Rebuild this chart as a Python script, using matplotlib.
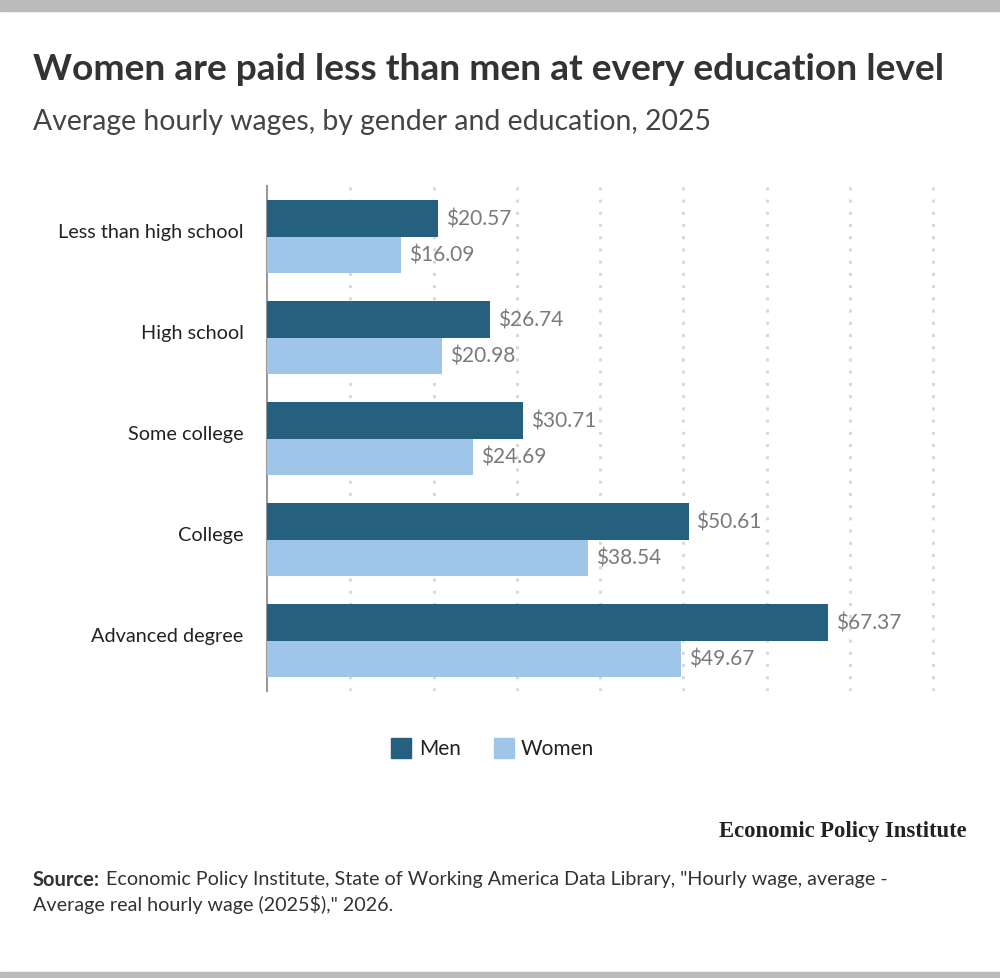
import numpy as np
import matplotlib
matplotlib.use("Agg")
import matplotlib.pyplot as plt
from matplotlib.patches import Rectangle

categories = ["Less than high school", "High school", "Some college", "College", "Advanced degree"]
men = [20.57, 26.74, 30.71, 50.61, 67.37]
women = [16.09, 20.98, 24.69, 38.54, 49.67]
series_names = ["Men", "Women"]
gridlines = [10, 20, 30, 40, 50, 60, 70, 80]

men_color = "#25607f"
women_color = "#9fc6e8"

plt.rcParams["font.family"] = ["Lato", "DejaVu Sans"]

fig = plt.figure(figsize=(10, 9.79), dpi=100)

# gray bands top and bottom
fig.patches.append(Rectangle((0, 1 - 12 / 979), 1, 12 / 979, transform=fig.transFigure,
                             color="#bbbbbb", zorder=0))
fig.patches.append(Rectangle((0, 0), 1, 6 / 979, transform=fig.transFigure,
                             color="#bbbbbb", zorder=0))

ax = fig.add_axes([0.267, 1 - 692 / 979, 0.935 - 0.267, (692 - 187) / 979])

y = np.arange(len(categories))
h = 0.366
ax.barh(y - h / 2, men, height=h, color=men_color, zorder=3)
ax.barh(y + h / 2, women, height=h, color=women_color, zorder=3)

for yi, v in zip(y, men):
    ax.text(v + 0.95, yi - h / 2, f"${v:.2f}", va="center", ha="left",
            fontsize=15, color="#7a7a7a")
for yi, v in zip(y, women):
    ax.text(v + 0.95, yi + h / 2, f"${v:.2f}", va="center", ha="left",
            fontsize=15, color="#7a7a7a")

for g in gridlines:
    ax.axvline(g, color="#d9d9d9", linestyle=(0, (1, 3)), linewidth=2.2, zorder=1)

ax.set_xlim(0, 80.2)
ax.set_ylim(len(categories) - 0.5, -0.5)
ax.set_yticks(y - 0.06)
ax.set_yticklabels(categories, fontsize=14.3, color="#222222")
ax.tick_params(axis="y", length=0, pad=17)
ax.set_xticks([])
for s in ["top", "right", "bottom"]:
    ax.spines[s].set_visible(False)
ax.spines["left"].set_color("#999999")
ax.spines["left"].set_linewidth(1.5)

# title, subtitle
fig.text(0.033, 1 - 70 / 979, "Women are paid less than men at every education level",
         fontsize=26.7, fontweight="bold", color="#333333", va="center", ha="left")
fig.text(0.033, 1 - 122 / 979, "Average hourly wages, by gender and education, 2025",
         fontsize=20.4, color="#444444", va="center", ha="left")

# legend
fig.patches.append(Rectangle((391 / 1000, 1 - 759 / 979), 20 / 1000, 20 / 979,
                             transform=fig.transFigure, color=men_color))
fig.text(419 / 1000, 1 - 749 / 979, series_names[0], fontsize=15, color="#222222",
         va="center", ha="left")
fig.patches.append(Rectangle((494 / 1000, 1 - 759 / 979), 20 / 1000, 20 / 979,
                             transform=fig.transFigure, color=women_color))
fig.text(521 / 1000, 1 - 749 / 979, series_names[1], fontsize=15, color="#222222",
         va="center", ha="left")

# logo text
fig.text(0.967, 1 - 832 / 979, "Economic Policy Institute", fontsize=16.3,
         fontweight="bold", family=["Liberation Serif", "DejaVu Serif"],
         color="#222222", va="center", ha="right")

# source
fig.text(0.033, 1 - 880 / 979, "Source:", fontsize=14.5, fontweight="bold",
         color="#333333", va="center", ha="left")
fig.text(0.106, 1 - 880 / 979,
         "Economic Policy Institute, State of Working America Data Library, \"Hourly wage, average -",
         fontsize=14.2, color="#333333", va="center", ha="left")
fig.text(0.033, 1 - 905 / 979, "Average real hourly wage (2025$),\" 2026.",
         fontsize=14.2, color="#333333", va="center", ha="left")

fig.savefig("out.png", dpi=100)
